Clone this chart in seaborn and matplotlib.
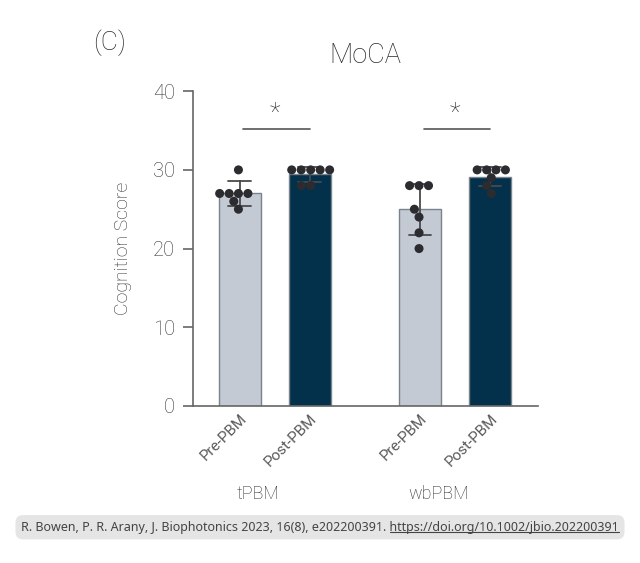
import matplotlib
matplotlib.use("Agg")
import matplotlib.pyplot as plt
import seaborn as sns
import numpy as np
import pandas as pd
from matplotlib.lines import Line2D

# values (7 subjects per group)
groups = ["tPBM", "wbPBM"]
conditions = ["Pre-PBM", "Post-PBM"]
tpbm_pre = [30, 27, 27, 27, 27, 26, 25]
tpbm_post = [30, 30, 30, 30, 30, 28, 28]
wbpbm_pre = [28, 28, 28, 25, 24, 22, 20]
wbpbm_post = [30, 30, 30, 30, 29, 28, 27]
sig_labels = ["*", "*"]
yticks = [0, 10, 20, 30, 40]

rows = []
for g, c, vals in [("tPBM", "Pre-PBM", tpbm_pre), ("tPBM", "Post-PBM", tpbm_post),
                   ("wbPBM", "Pre-PBM", wbpbm_pre), ("wbPBM", "Post-PBM", wbpbm_post)]:
    for v in vals:
        rows.append({"group": g, "condition": c, "score": v})
df = pd.DataFrame(rows)

sns.set_style("ticks")
plt.rcParams["font.family"] = ["Roboto", "DejaVu Sans"]

fig = plt.figure(figsize=(6.4, 5.63), dpi=100)
ax = fig.add_axes([0.302, 0.279, 0.539, 0.559])

palette = {"Pre-PBM": "#c3cad4", "Post-PBM": "#03304a"}
sns.barplot(data=df, x="group", y="score", hue="condition", order=groups,
            hue_order=conditions, palette=palette, errorbar="sd", width=0.775,
            gap=0.4, capsize=0.25, err_kws={"color": "#4a4a4a", "linewidth": 1.3},
            edgecolor="#7a828c", linewidth=1.0, saturation=1, legend=False, ax=ax)
sns.swarmplot(data=df, x="group", y="score", hue="condition", order=groups,
              hue_order=conditions, dodge=True, palette={c: "#2c2c30" for c in conditions},
              size=6.5, legend=False, ax=ax)

ax.set_ylim(0, 40)
ax.set_xlim(-0.45, 1.46)
ax.set_yticks(yticks)
ax.tick_params(axis="y", labelsize=14.5, length=7, width=1.2, pad=6, color="#666666")
ax.tick_params(axis="x", length=0, pad=4)
for lab in ax.get_yticklabels():
    lab.set_fontweight("light")
    lab.set_color("#333333")

sns.despine(ax=ax)
for s in ["left", "bottom"]:
    ax.spines[s].set_color("#666666")
    ax.spines[s].set_linewidth(1.2)

# bar centres, left to right
bars = sorted([p for p in ax.patches if p.get_height() > 0], key=lambda p: p.get_x())
centers = [p.get_x() + p.get_width() / 2 for p in bars]
ax.set_xticks(centers)
ax.set_xticklabels(conditions * len(groups), rotation=45, ha="right",
                   rotation_mode="anchor", fontsize=11, color="#5a5a5a")

for i, g in enumerate(groups):
    ax.text(i - 0.09, -0.28, g, transform=ax.get_xaxis_transform(), ha="center",
            va="center", fontsize=13, color="#2a2a2a", fontweight="light")
    x0, x1 = centers[2 * i], centers[2 * i + 1]
    ax.plot([x0 + 0.02, x1], [35.2, 35.2], color="#555555", lw=1.2, clip_on=False)
    ax.text((x0 + x1) / 2, 35.6, sig_labels[i], ha="center", va="bottom",
            fontsize=18, color="#333333", fontweight="light")

ax.set_xlabel("")
ax.set_ylabel("Cognition Score", fontsize=14, color="#333333", fontweight="light", labelpad=15)
ax.set_title("MoCA", fontsize=19.5, color="#2a2a2a", fontweight="light", pad=20)
fig.text(0.146, 0.925, "(C)", fontsize=19, color="#2a2a2a", fontweight="light",
         ha="left", va="center")

cite = "R. Bowen, P. R. Arany, J. Biophotonics 2023, 16(8), e202200391. "
link = "https://doi.org/10.1002/jbio.202200391"
font_c = ["Noto Sans", "DejaVu Sans"]
t = fig.text(0.5, 0.0635, cite + link, ha="center", va="center", fontsize=9.0,
             family=font_c, color="#444444",
             bbox=dict(boxstyle="round,pad=0.45,rounding_size=0.6", fc="#e5e5e5", ec="none"))
fig.canvas.draw()
r = fig.canvas.get_renderer()
bb = t.get_window_extent(renderer=r)
tmp = fig.text(0, 0, link, fontsize=9.0, family=font_c)
lw = tmp.get_window_extent(renderer=r).width
tmp.remove()
fig.add_artist(Line2D([(bb.x1 - lw) / 640, bb.x1 / 640], [(bb.y0 + 2) / 563] * 2,
                      color="#444444", lw=0.8, zorder=10))

fig.savefig("out.png", dpi=100)
